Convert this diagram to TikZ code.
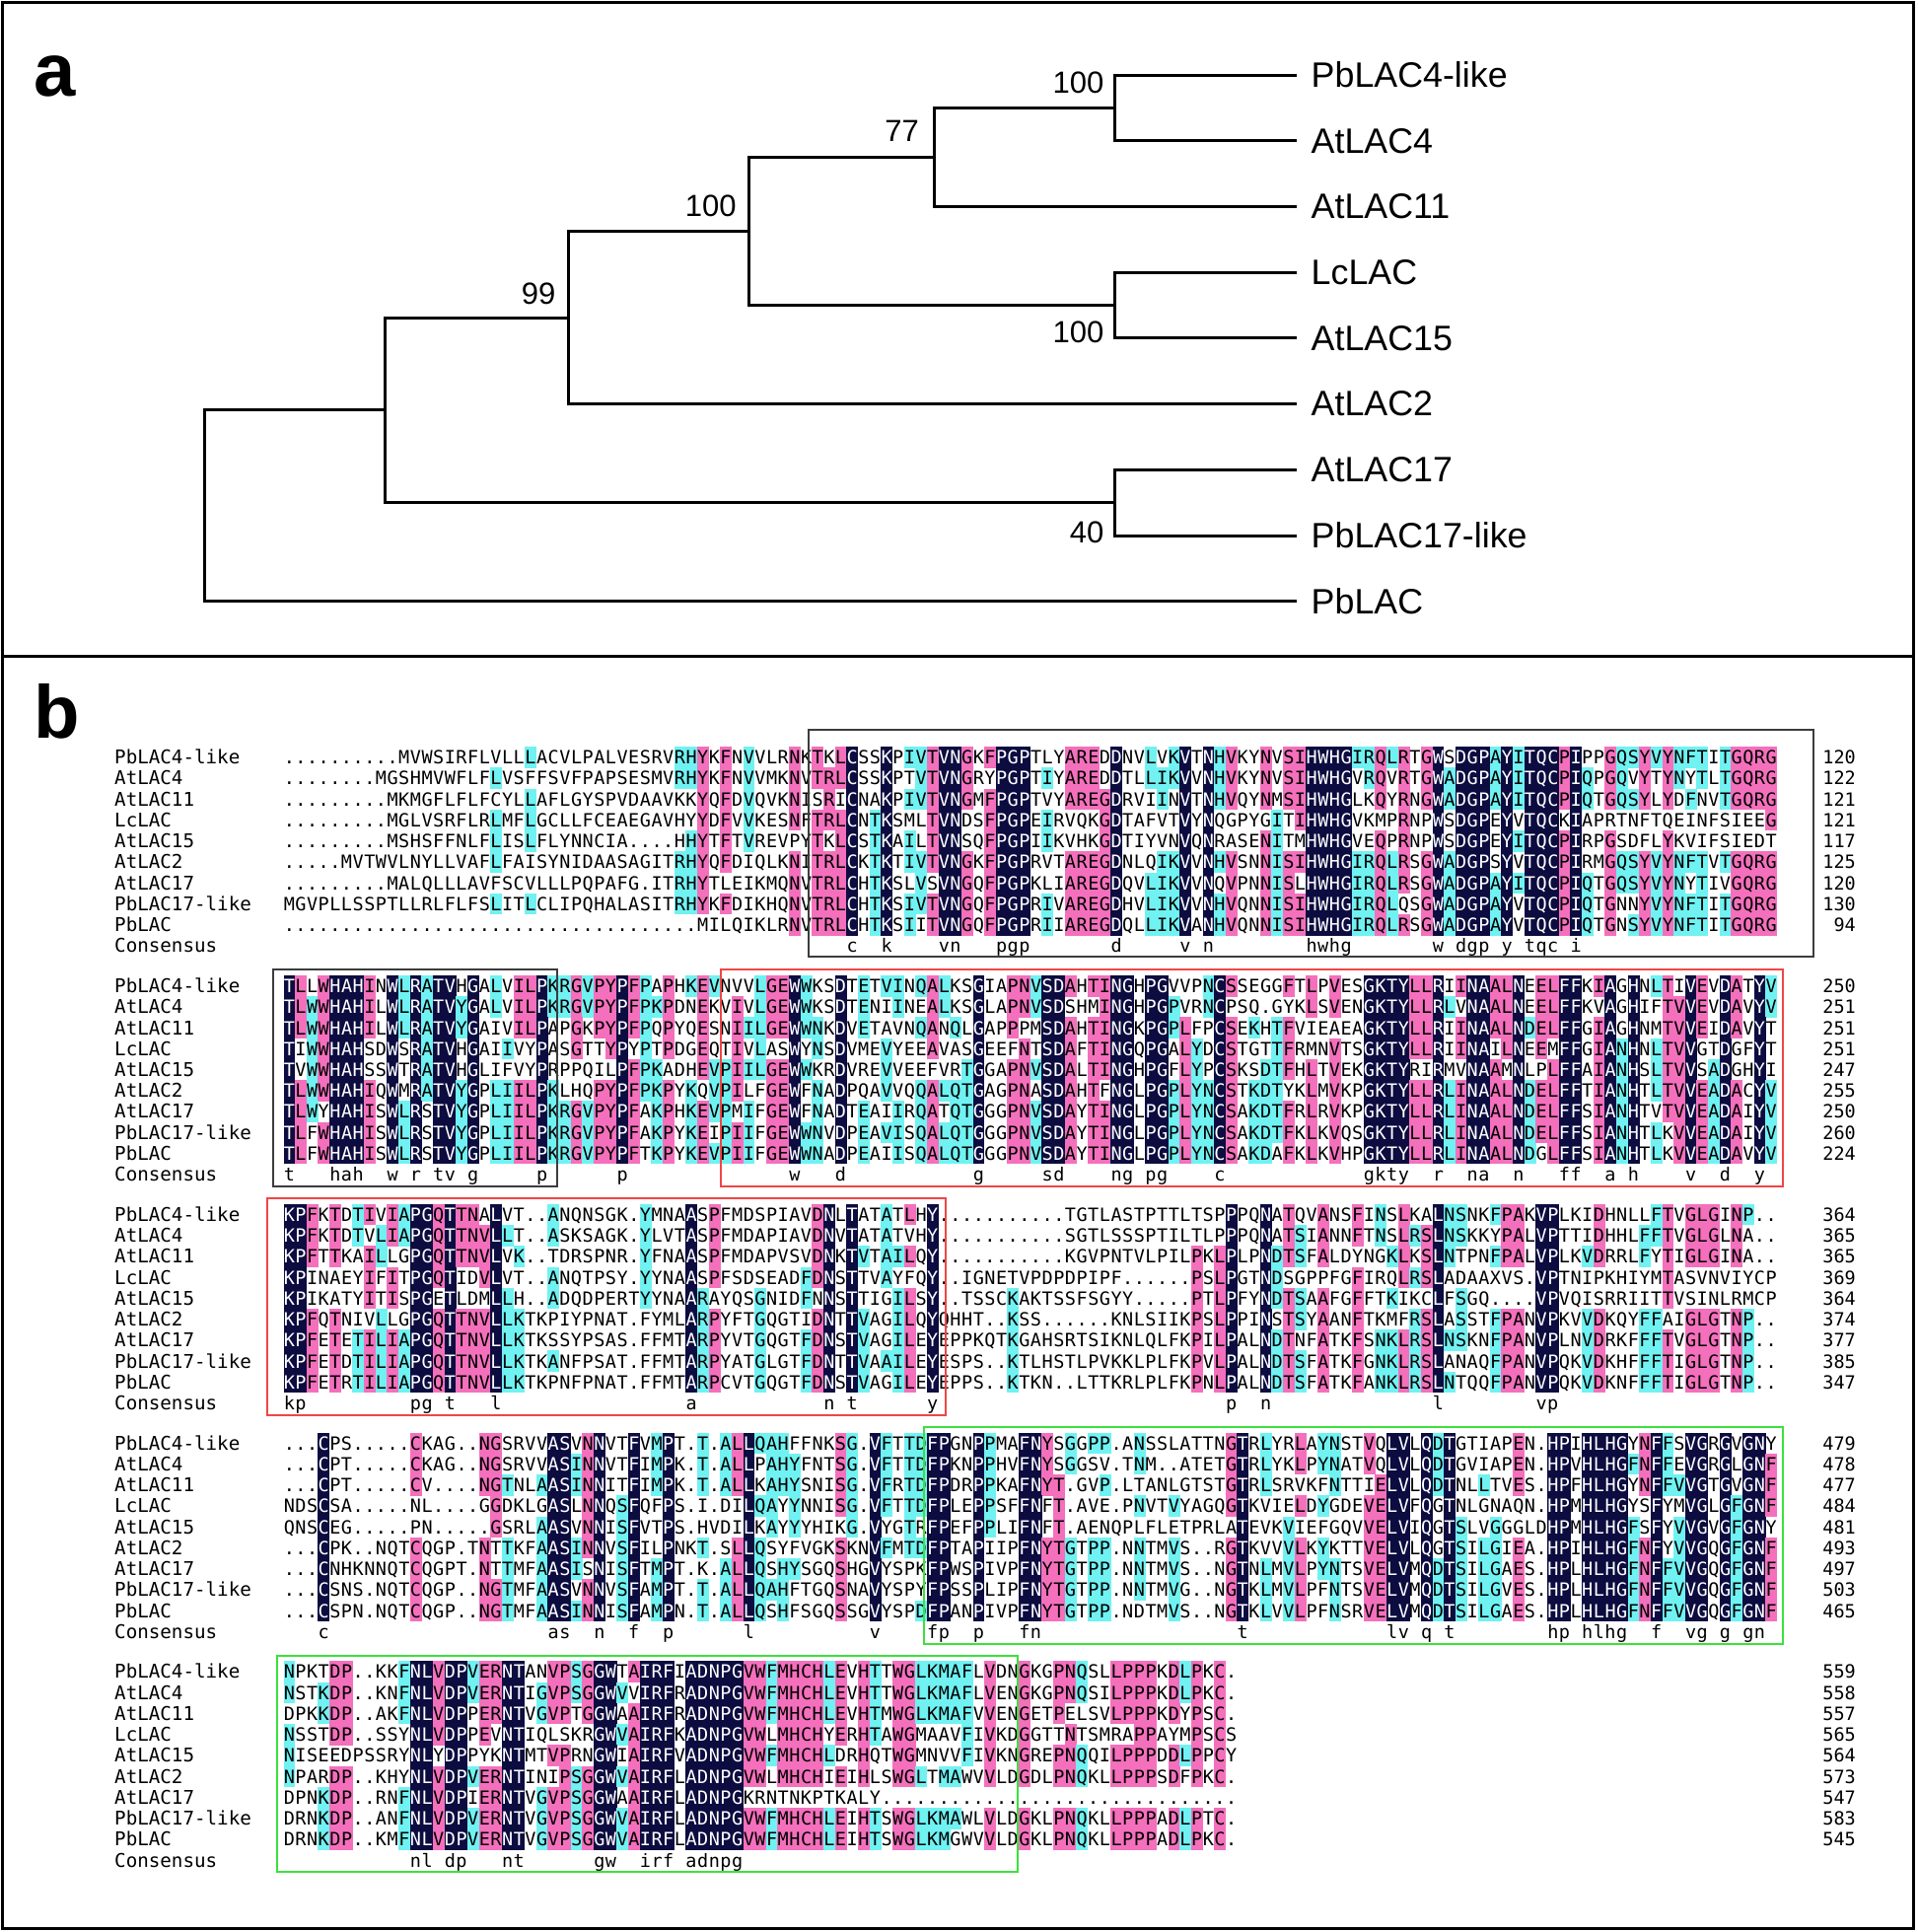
\documentclass[tikz,border=0pt]{standalone}
\usepackage{fontspec}
\setmainfont{Liberation Sans}
\newfontfamily\alnfont{DejaVu Sans Mono}

\definecolor{alnnavy}{RGB}{12,12,64}
\definecolor{alnpink}{RGB}{244,112,188}
\definecolor{alncyan}{RGB}{112,242,242}
\definecolor{boxgray}{RGB}{60,60,60}
\definecolor{boxred}{RGB}{240,70,70}
\definecolor{boxgreen}{RGB}{60,225,60}

% one residue cell of the alignment
\newlength\alnpitch \setlength\alnpitch{11.65pt}
\newlength\alnfillw \setlength\alnfillw{11.95pt}
\newcommand\alncell[3]{\rlap{\textcolor{#1}{\rule[-3.96pt]{\alnfillw}{21.5pt}}}\makebox[\alnpitch]{\textcolor{#2}{#3}}}
\newcommand\alnN[1]{\alncell{alnnavy}{white}{#1}}
\newcommand\alnP[1]{\alncell{alnpink}{black}{#1}}
\newcommand\alnC[1]{\alncell{alncyan}{black}{#1}}
\newcommand\alnO[1]{\makebox[\alnpitch]{#1}}
\newcommand\alnK[1]{\makebox[\alnpitch]{\lowercase{#1}}}
\newcommand\alnB{\makebox[\alnpitch]{}}
\newcommand\rowy[2]{768+(#1-1)*231.8+(#2-1)*21.24+6.74}

\ExplSyntaxOn
\cs_generate_variant:Nn \prop_get:NnNTF { NV }
\int_new:N \l_aln_len_int
\int_new:N \l_aln_max_int
\int_new:N \l_aln_cnt_int
\tl_new:N \l_aln_best_tl
\tl_new:N \l_aln_k_tl
\tl_new:N \l_aln_cls_tl
\tl_new:N \l_aln_c_tl
\tl_new:N \l_aln_r_tl
\tl_new:N \l_aln_s_tl
\tl_new:N \l_aln_dot_tl
\tl_set:Nn \l_aln_dot_tl { . }
\seq_new:N \l_aln_rows_seq
\prop_new:N \l_aln_cons_prop
\int_step_inline:nn {9}
  {
    \tl_new:c { l_aln_row_#1_tl }
    \tl_new:c { l_aln_ch_#1_tl }
  }
\cs_new_protected:Npn \__aln_column:n #1
  {
    \int_step_inline:nn {9}
      { \tl_set:cx { l_aln_ch_##1_tl } { \tl_item:cn { l_aln_row_##1_tl } { \l_aln_c_tl } } }
    \prop_get:NVNTF \l_aln_cons_prop \l_aln_c_tl \l_aln_k_tl
      {
        \int_step_inline:nn {9}
          { \tl_gput_right:cx { g_aln_out_#1_##1_tl } { \exp_not:N \alnN { \exp_not:V \l_aln_k_tl } } }
        \tl_gput_right:cx { g_aln_out_#1_10_tl } { \exp_not:N \alnK { \exp_not:V \l_aln_k_tl } }
      }
      {
        \int_zero:N \l_aln_max_int
        \tl_clear:N \l_aln_best_tl
        \int_step_variable:nNn {9} \l_aln_r_tl
          {
            \tl_if_eq:cNF { l_aln_ch_ \l_aln_r_tl _tl } \l_aln_dot_tl
              {
                \int_zero:N \l_aln_cnt_int
                \int_step_variable:nNn {9} \l_aln_s_tl
                  {
                    \tl_if_eq:ccT { l_aln_ch_ \l_aln_r_tl _tl } { l_aln_ch_ \l_aln_s_tl _tl }
                      { \int_incr:N \l_aln_cnt_int }
                  }
                \int_compare:nNnT \l_aln_cnt_int > \l_aln_max_int
                  {
                    \int_set_eq:NN \l_aln_max_int \l_aln_cnt_int
                    \tl_set_eq:Nc \l_aln_best_tl { l_aln_ch_ \l_aln_r_tl _tl }
                  }
              }
          }
        \int_compare:nNnTF \l_aln_max_int > 6
          { \tl_set:Nn \l_aln_cls_tl { \alnP } }
          {
            \int_compare:nNnTF \l_aln_max_int > 4
              { \tl_set:Nn \l_aln_cls_tl { \alnC } }
              { \tl_set:Nn \l_aln_cls_tl { \alnO } }
          }
        \int_step_inline:nn {9}
          {
            \tl_if_eq:cNTF { l_aln_ch_##1_tl } \l_aln_best_tl
              { \tl_gput_right:cx { g_aln_out_#1_##1_tl } { \exp_not:V \l_aln_cls_tl { \exp_not:v { l_aln_ch_##1_tl } } } }
              { \tl_gput_right:cx { g_aln_out_#1_##1_tl } { \exp_not:N \alnO { \exp_not:v { l_aln_ch_##1_tl } } } }
          }
        \tl_gput_right:cn { g_aln_out_#1_10_tl } { \alnB }
      }
  }
\NewDocumentCommand \alnblock { m m m }
  {
    \seq_set_from_clist:Nn \l_aln_rows_seq {#3}
    \prop_set_from_keyval:Nn \l_aln_cons_prop {#2}
    \int_step_inline:nn {9}
      {
        \tl_set:cx { l_aln_row_##1_tl } { \seq_item:Nn \l_aln_rows_seq {##1} }
        \tl_gclear_new:c { g_aln_out_#1_##1_tl }
      }
    \tl_gclear_new:c { g_aln_out_#1_10_tl }
    \int_set:Nn \l_aln_len_int { \tl_count:c { l_aln_row_1_tl } }
    \int_step_variable:nNn { \l_aln_len_int } \l_aln_c_tl
      { \__aln_column:n {#1} }
  }
\NewDocumentCommand \alnrow { m m } { \tl_use:c { g_aln_out_#1_#2_tl } }
\ExplSyntaxOff

% alignment data
\alnblock{1}{50=C,53=K,58=V,59=N,63=P,64=G,65=P,73=D,79=V,81=N,90=H,91=W,92=H,93=G,101=W,103=D,104=G,105=P,107=Y,109=T,110=Q,111=C,113=I}{
..........MVWSIRFLVLLLACVLPALVESRVRHYKFNVVLRNKTKLCSSKPIVTVNGKFPGPTLYAREDDNVLVKVTNHVKYNVSIHWHGIRQLRTGWSDGPAYITQCPIPPGQSYVYNFTITGQRG,
........MGSHMVWFLFLVSFFSVFPAPSESMVRHYKFNVVMKNVTRLCSSKPTVTVNGRYPGPTIYAREDDTLLIKVVNHVKYNVSIHWHGVRQVRTGWADGPAYITQCPIQPGQVYTYNYTLTGQRG,
.........MKMGFLFLFCYLLAFLGYSPVDAAVKKYQFDVQVKNISRICNAKPIVTVNGMFPGPTVYAREGDRVIINVTNHVQYNMSIHWHGLKQYRNGWADGPAYITQCPIQTGQSYLYDFNVTGQRG,
.........MGLVSRFLRLMFLGCLLFCEAEGAVHYYDFVVKESNFTRLCNTKSMLTVNDSFPGPEIRVQKGDTAFVTVYNQGPYGITIHWHGVKMPRNPWSDGPEYVTQCKIAPRTNFTQEINFSIEEG,
.........MSHSFFNLFLISLFLYNNCIA....HHYTFTVREVPYTKLCSTKAILTVNSQFPGPIIKVHKGDTIYVNVQNRASENITMHWHGVEQPRNPWSDGPEYITQCPIRPGSDFLYKVIFSIEDT,
.....MVTWVLNYLLVAFLFAISYNIDAASAGITRHYQFDIQLKNITRLCKTKTIVTVNGKFPGPRVTAREGDNLQIKVVNHVSNNISIHWHGIRQLRSGWADGPSYVTQCPIRMGQSYVYNFTVTGQRG,
.........MALQLLLAVFSCVLLLPQPAFG.ITRHYTLEIKMQNVTRLCHTKSLVSVNGQFPGPKLIAREGDQVLIKVVNQVPNNISLHWHGIRQLRSGWADGPAYITQCPIQTGQSYVYNYTIVGQRG,
MGVPLLSSPTLLRLFLFSLITLCLIPQHALASITRHYKFDIKHQNVTRLCHTKSIVTVNGQFPGPRIVAREGDHVLIKVVNHVQNNISIHWHGIRQLQSGWADGPAYVTQCPIQTGNNYVYNFTITGQRG,
....................................MILQIKLRNVTRLCHTKSIITVNGQFPGPRIIAREGDQLLIKVANHVQNNISIHWHGIRQLRSGWADGPAYVTQCPIQTGNSYVYNFTITGQRG}

\alnblock{2}{1=T,5=H,6=A,7=H,10=W,12=R,14=T,15=V,17=G,23=P,30=P,45=W,49=D,61=G,67=S,68=D,73=N,74=G,76=P,77=G,82=C,95=G,96=K,97=T,98=Y,101=R,104=N,105=A,108=N,112=F,113=F,116=A,118=H,123=V,126=D,129=Y}{
TLLWHAHINWLRATVHGALVILPKRGVPYPFPAPHKEVNVVLGEWWKSDTETVINQALKSGIAPNVSDAHTINGHPGVVPNCSSEGGFTLPVESGKTYLLRIINAALNEELFFKIAGHNLTIVEVDATYV,
TLWWHAHILWLRATVYGALVILPKRGVPYPFPKPDNEKVIVLGEWWKSDTENIINEALKSGLAPNVSDSHMINGHPGPVRNCPSQ.GYKLSVENGKTYLLRLVNAALNEELFFKVAGHIFTVVEVDAVYV,
TLWWHAHILWLRATVYGAIVILPAPGKPYPFPQPYQESNIILGEWWNKDVETAVNQANQLGAPPPMSDAHTINGKPGPLFPCSEKHTFVIEAEAGKTYLLRIINAALNDELFFGIAGHNMTVVEIDAVYT,
TIWWHAHSDWSRATVHGAIIVYPASGTTYPYPTPDGEQTIVLASWYNSDVMEVYEEAVASGEEFNTSDAFTINGQPGALYDCSTGTTFRMNVTSGKTYLLRIINAILNEEMFFGIANHNLTVVGTDGFYT,
TVWWHAHSSWTRATVHGLIFVYPRPPQILPFPKADHEVPIILGEWWKRDVREVVEEFVRTGGAPNVSDALTINGHPGFLYPCSKSDTFHLTVEKGKTYRIRMVNAAMNLPLFFAIANHSLTVVSADGHYI,
TLWWHAHIQWMRATVYGPLIILPKLHQPYPFPKPYKQVPILFGEWFNADPQAVVQQALQTGAGPNASDAHTFNGLPGPLYNCSTKDTYKLMVKPGKTYLLRLINAALNDELFFTIANHTLTVVEADACYV,
TLWYHAHISWLRSTVYGPLIILPKRGVPYPFAKPHKEVPMIFGEWFNADTEAIIRQATQTGGGPNVSDAYTINGLPGPLYNCSAKDTFRLRVKPGKTYLLRLINAALNDELFFSIANHTVTVVEADAIYV,
TLFWHAHISWLRSTVYGPLIILPKRGVPYPFAKPYKEIPIIFGEWWNVDPEAVISQALQTGGGPNVSDAYTINGLPGPLYNCSAKDTFKLKVQSGKTYLLRLINAALNDELFFSIANHTLKVVEADAIYV,
TLFWHAHISWLRSTVYGPLIILPKRGVPYPFTKPYKEVPIIFGEWWNADPEAIISQALQTGGGPNVSDAYTINGLPGPLYNCSAKDAFKLKVHPGKTYLLRLINAALNDGLFFSIANHTLKVVEADAVYV}

\alnblock{3}{1=K,2=P,12=P,13=G,15=T,19=L,36=A,48=N,50=T,57=Y,83=P,86=N,101=L,110=V,111=P}{
KPFKTDTIVIAPGQTTNALVT..ANQNSGK.YMNAASPFMDSPIAVDNLTATATLHY...........TGTLASTPTTLTSPFPQNATQVANSFINSLKALNSNKFPAKVFLKIDHNLLFTVGLGINP..,
KPFKTDTVLIAPGQTTNVLLT..ASKSAGK.YLVTASPFMDAPIAVDNVTATATVHY...........SGTLSSSPTILTLPFPQNATSIANNFTNSLRSLNSKKYPALVFTTIDHHLFFTVGLGLNA..,
KPFTTKAILLGPGQTTNVLVK..TDRSPNR.YFNAASPFMDAPVSVDNKIVTAILQY...........KGVPNTVLPILPKLPLPNDTSFALDYNGKLKSLNTPNFPALVPLKVDRRLFYTIGLGINA..,
KPINAEYIFITPGQTIDVLVT..ANQTPSY.YYNAASPFSDSEADFDNSITVAYFQY..IGNETVPDPDPIPF......PSLFGTNDSGPPFGFIRQLRSLADAAXVS.VFTNIPKHIYMTASVNVIYCP,
KPIKATYITISPGETLDMLLH..ADQDPERTYYNAARAYQSGNIDFNNSITIGILSY..TSSCKAKTSSFSGYY.....PTLFFYNDTSAAFGFFTKIKCLFSGQ....VFVQISRRIITTVSINLRMCP,
KPFQTNIVLLGPGQTTNVLLKTKPIYPNAT.FYMLARPYFTGQGTIDNTIVAGILQYQHHT..KSS......KNLSIIKPSLFPINSTSYAANFTKMFRSLASSTFPANVFKVVDKQYFFAIGLGTNP..,
KPFETETILIAPGQTTNVLLKTKSSYPSAS.FFMTARPYVTGQGTFDNSIVAGILEYEPPKQTKGAHSRTSIKNLQLFKPILFALNDTNFATKFSNKLRSLNSKNFPANVFLNVDRKFFFTVGLGTNP..,
KPFETDTILIAPGQTTNVLLKTKANFPSAT.FFMTARPYATGLGTFDNTIVAAILEYESPS..KTLHSTLPVKKLPLFKPVLFALNDTSFATKFGNKLRSLANAQFPANVFQKVDKHFFFTIGLGTNP..,
KPFETRTILIAPGQTTNVLLKTKPNFPNAT.FFMTARPCVTGQGTFDNSIVAGILEYEPPS..KTKN..LTTKRLPLFKPNLFALNDTSFATKFANKLRSLNTQQFPANVFQKVDKNFFFTIGLGTNP..}

\alnblock{4}{4=C,24=A,25=S,28=N,31=F,34=P,41=L,52=V,57=F,58=P,61=P,65=F,66=N,84=T,97=L,98=V,100=Q,102=T,111=H,112=P,114=H,115=L,116=H,117=G,120=F,123=V,124=G,126=G,128=G,129=N}{
...CPS.....CKAG..NGSRVVASVNNVTFVMFT.T.ALLQAHFFNKSG.VFTTDFPGNFPMAFNYSGGPP.ANSSLATTNGTRLYRLAYNSTVQLVLQDTGTIAPEN.HPIHLHGYNFFSVGRGVGNY,
...CPT.....CKAG..NGSRVVASINNVTFIMFK.T.ALLPAHYFNTSG.VFTTDFPKNFPHVFNYSGGSV.TNM..ATETGTRLYKLPYNATVQLVLQDTGVIAPEN.HPVHLHGFNFFEVGRGLGNF,
...CPT.....CV....NGTNLAASINNITFIMFK.T.ALLKAHYSNISG.VFRTDFPDRFPKAFNYT.GVP.LTANLGTSTGTRLSRVKFNTTIELVLQDTNLLTVES.HPFHLHGYNFFVVGTGVGNF,
NDSCSA.....NL....GGDKLGASLNNQSFQFFS.I.DILQAYYNNISG.VFTTDFPLEFPSFFNFT.AVE.PNVTVYAGQGTKVIELDYGDEVELVFQGTNLGNAQN.HPMHLHGYSFYMVGLGFGNF,
QNSCEG.....PN.....GSRLAASVNNISFVTFS.HVDILKAYYYHIKG.VYGTRFPEFPPLIFNFT.AENQPLFLETPRLATEVKVIEFGQVVELVIQGTSLVGGGLDHPMHLHGFSFYVVGVGFGNY,
...CPK..NQTCQGP.TNTTKFAASINNVSFILFNKT.SLLQSYFVGKSKNVFMTDFPTAPIIPFNYTGTPP.NNTMVS..RGTKVVVLKYKTTVELVLQGTSILGIEA.HPIHLHGFNFYVVGQGFGNF,
...CNHKNNQTCQGPT.NTTMFAASISNISFTMFT.K.ALLQSHYSGQSHGVYSPKFPWSFIVPFNYTGTPP.NNTMVS..NGTNLMVLPYNTSVELVMQDTSILGAES.HPLHLHGFNFFVVGQGFGNF,
...CSNS.NQTCQGP..NGTMFAASVNNVSFAMFT.T.ALLQAHFTGQSNAVYSPYFPSSPLIPFNYTGTPP.NNTMVG..NGTKLMVLPFNTSVELVMQDTSILGVES.HPLHLHGFNFFVVGQGFGNF,
...CSPN.NQTCQGP..NGTMFAASINNISFAMFN.T.ALLQSHFSGQSSGVYSPDFPANFIVPFNYTGTPP.NDTMVS..NGTKLVVLPFNSRVELVMQDTSILGAES.HPLHLHGFNFFVVGQGFGNF}

\alnblock{5}{12=N,13=L,15=D,16=P,20=N,21=T,28=G,29=W,32=I,33=R,34=F,36=A,37=D,38=N,39=P,40=G}{
NPKTDP..KKFNLVDPVERNTANVPSGGWTAIRFIADNPGVWFMHCHLEVHTTWGLKMAFLVDNGKGPNQSLLPPPKDLPKC.,
NSTKDP..KNFNLVDPVERNTIGVPSGGWVVIRFRADNPGVWFMHCHLEVHTTWGLKMAFLVENGKGPNQSILPPPKDLPKC.,
DPKKDP..AKFNLVDPPERNTVGVPTGGWAAIRFRADNPGVWFMHCHLEVHTMWGLKMAFVVENGETPELSVLPPPKDYPSC.,
NSSTDP..SSYNLVDPPEVNTIQLSKRGWVAIRFKADNPGVWLMHCHYERHTAWGMAAVFIVKDGGTTNTSMRAPPAYMPSCS,
NISEEDPSSRYNLYDPPYKNTMTVPRNGWIAIRFVADNPGVWFMHCHLDRHQTWGMNVVFIVKNGREPNQQILPPPDDLPPCY,
NPARDP..KHYNLVDPVERNTINIPSGGWVAIRFLADNPGVWLMHCHIEIHLSWGLTMAWVVLDGDLPNQKLLPPPSDFPKC.,
DPNKDP..RNFNLVDPIERNTVGVPSGGWAAIRFLADNPGKRNTNKPTKALY...............................,
DRNKDP..ANFNLVDPVERNTVGVPSGGWVAIRFLADNPGVWFMHCHLEIHTSWGLKMAWLVLDGKLPNQKLLPPPADLPTC.,
DRNKDP..KMFNLVDPVERNTVGVPSGGWVAIRFLADNPGVWFMHCHLEIHTSWGLKMGWVVLDGKLPNQKLLPPPADLPKC.}

\begin{document}
\begin{tikzpicture}[x=1pt, y=-1pt,
    branch/.style={line width=3pt, line cap=rect},
    leaf/.style={anchor=west, inner xsep=15.8pt, inner ysep=0pt, font=\fontsize{35.8}{40}\selectfont},
    boot/.style={anchor=east, inner sep=0pt, font=\fontsize{31}{35}\selectfont},
    panel/.style={anchor=base west, inner sep=0pt, font=\fontsize{76}{80}\selectfont\bfseries},
    seqrow/.style={anchor=base west, inner sep=0pt, font=\alnfont\fontsize{18.5}{21}\selectfont},
    seqname/.style={anchor=base west, inner sep=0pt, font=\alnfont\fontsize{19.2}{21}\selectfont},
    seqnum/.style={anchor=base east, inner sep=0pt, font=\alnfont\fontsize{18.5}{21}\selectfont},
    graybox/.style={draw=boxgray, line width=2pt},
    redbox/.style={draw=boxred, line width=2pt},
    greenbox/.style={draw=boxgreen, line width=2.5pt}
]
    \useasboundingbox (0,0) rectangle (1944,1959);

    % frame and panel letters
    \draw[line width=3pt] (2.5,2.5) rectangle (1940.5,1955.5);
    \draw[line width=3pt] (2.5,665) -- (1940.5,665);
    \node[panel] (pa) at (34,97) {a};
    \node[panel] (pb) at (34,748) {b};

    % tree leaves
    \node[leaf] (pblac4)  at (1313.7,76.2)  {PbLAC4-like};
    \node[leaf] (atlac4)  at (1313.7,142.9) {AtLAC4};
    \node[leaf] (atlac11) at (1313.7,209.6) {AtLAC11};
    \node[leaf] (lclac)   at (1313.7,276.3) {LcLAC};
    \node[leaf] (atlac15) at (1313.7,342.9) {AtLAC15};
    \node[leaf] (atlac2)  at (1313.7,409.6) {AtLAC2};
    \node[leaf] (atlac17) at (1313.7,476.3) {AtLAC17};
    \node[leaf] (pblac17) at (1313.7,543.0) {PbLAC17-like};
    \node[leaf] (pblac)   at (1313.7,609.7) {PbLAC};

    % inner nodes
    \coordinate (n1) at (1130.6,109.55);
    \coordinate (n2) at (947.4,159.6);
    \coordinate (n3) at (1130.6,309.6);
    \coordinate (n4) at (759.6,234.6);
    \coordinate (n5) at (576.5,322.1);
    \coordinate (n6) at (1130.6,509.65);
    \coordinate (n7) at (390.5,415.9);
    \coordinate (root) at (207.4,512.8);

    \draw[branch] (n1) |- (pblac4.west);
    \draw[branch] (n1) |- (atlac4.west);
    \draw[branch] (n2) |- (n1);
    \draw[branch] (n2) |- (atlac11.west);
    \draw[branch] (n3) |- (lclac.west);
    \draw[branch] (n3) |- (atlac15.west);
    \draw[branch] (n4) |- (n2);
    \draw[branch] (n4) |- (n3);
    \draw[branch] (n5) |- (n4);
    \draw[branch] (n5) |- (atlac2.west);
    \draw[branch] (n6) |- (atlac17.west);
    \draw[branch] (n6) |- (pblac17.west);
    \draw[branch] (n7) |- (n5);
    \draw[branch] (n7) |- (n6);
    \draw[branch] (root) |- (n7);
    \draw[branch] (root) |- (pblac.west);

    % bootstrap values
    \node[boot] (bs1) at (1119.5,84) {100};
    \node[boot] (bs2) at (932,133) {77};
    \node[boot] (bs4) at (746.7,208.6) {100};
    \node[boot] (bs5) at (563.5,297.4) {99};
    \node[boot] (bs3) at (1119.5,337.3) {100};
    \node[boot] (bs6) at (1119.5,539.7) {40};

    % alignment rows
    \foreach \bk in {1,...,5} {
        \foreach \rw in {1,...,10} {
            \node[seqrow] (seq\bk-\rw) at (287.3,{\rowy{\bk}{\rw}}) {\alnrow{\bk}{\rw}};
        }
    }
    \foreach \lab [count=\rw] in {PbLAC4-like,AtLAC4,AtLAC11,LcLAC,AtLAC15,AtLAC2,AtLAC17,PbLAC17-like,PbLAC,Consensus} {
        \foreach \bk in {1,...,5} {
            \node[seqname] (name\bk-\rw) at (116,{\rowy{\bk}{\rw}}) {\lab};
        }
    }

    % residue numbers
    \foreach \n [count=\rw] in {120,122,121,121,117,125,120,130,94}
        \node[seqnum] (num1-\rw) at (1882,{\rowy{1}{\rw}}) {\n};
    \foreach \n [count=\rw] in {250,251,251,251,247,255,250,260,224}
        \node[seqnum] (num2-\rw) at (1882,{\rowy{2}{\rw}}) {\n};
    \foreach \n [count=\rw] in {364,365,365,369,364,374,377,385,347}
        \node[seqnum] (num3-\rw) at (1882,{\rowy{3}{\rw}}) {\n};
    \foreach \n [count=\rw] in {479,478,477,484,481,493,497,503,465}
        \node[seqnum] (num4-\rw) at (1882,{\rowy{4}{\rw}}) {\n};
    \foreach \n [count=\rw] in {559,558,557,565,564,573,547,583,545}
        \node[seqnum] (num5-\rw) at (1882,{\rowy{5}{\rw}}) {\n};

    % motif boxes
    \draw[graybox] (820,740) rectangle (1839,970);
    \draw[graybox] (277,983) rectangle (565,1203);
    \draw[redbox] (731,983) rectangle (1808,1203);
    \draw[redbox] (271,1215) rectangle (959,1435);
    \draw[greenbox] (937,1447) rectangle (1808,1667);
    \draw[greenbox] (281,1679) rectangle (1032,1898);
\end{tikzpicture}
\end{document}
